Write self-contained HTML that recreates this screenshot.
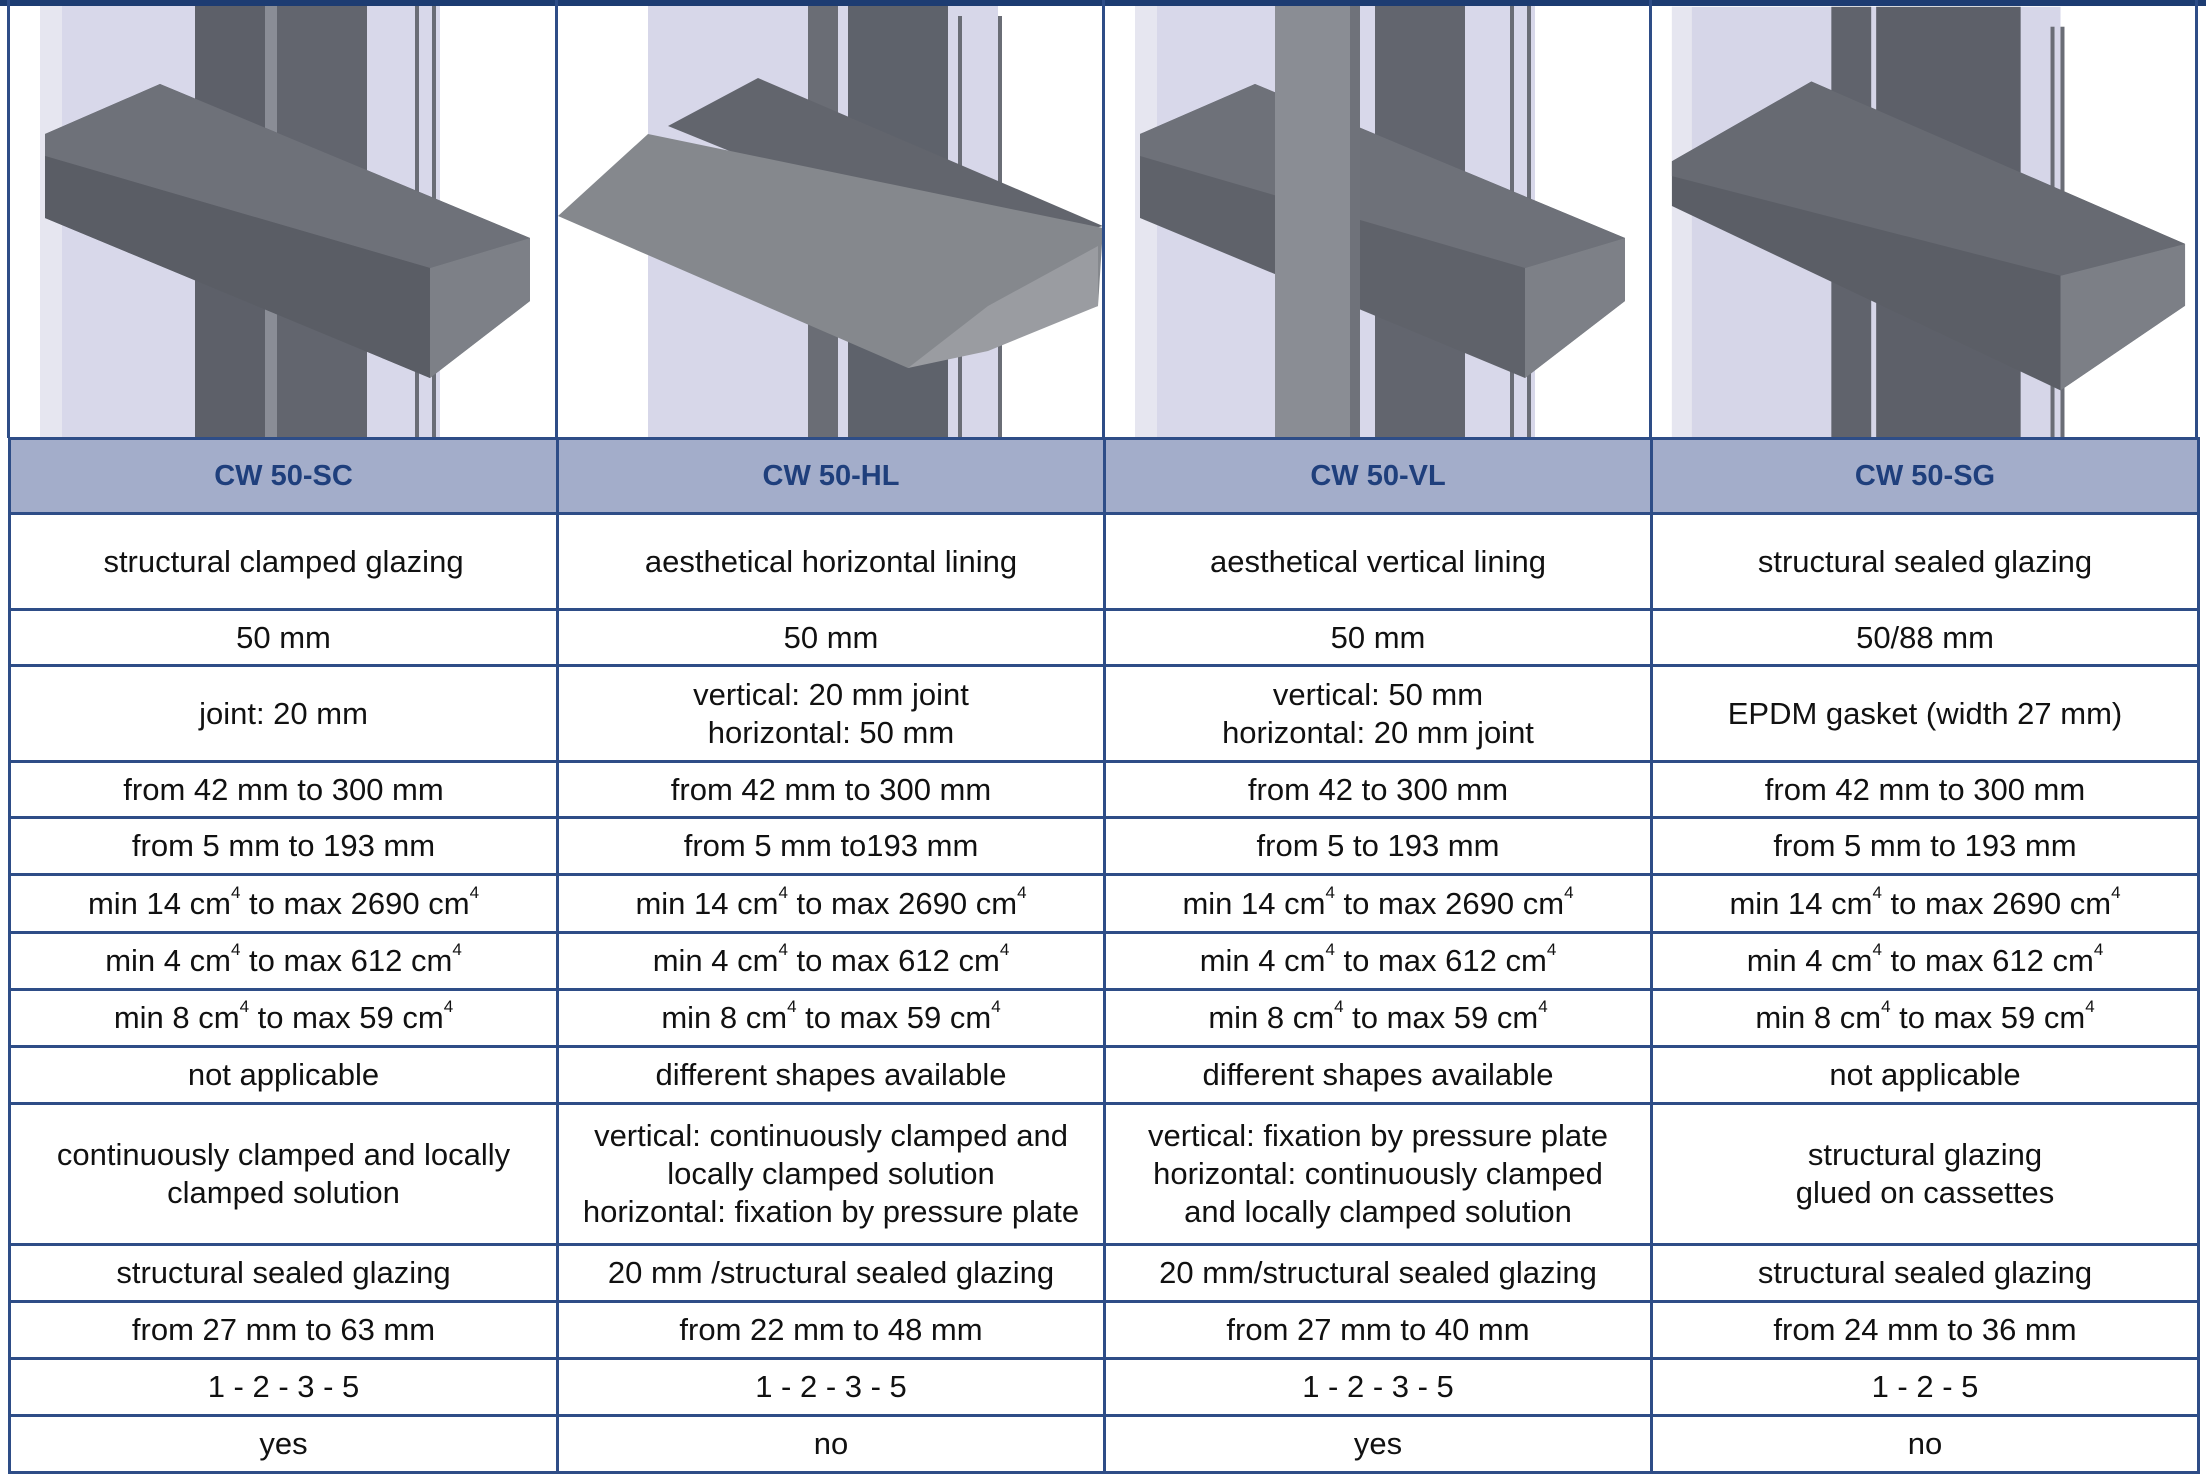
<!DOCTYPE html>
<html><head><meta charset="utf-8"><style>
html,body{margin:0;padding:0;background:#fff;}
body{width:2206px;height:1478px;position:relative;overflow:hidden;font-family:"Liberation Sans",sans-serif;}
.top{position:absolute;left:0;top:0;width:2206px;height:6px;background:#1d3c72;}
.img{position:absolute;top:6px;height:432px;}
table{position:absolute;left:8px;top:437px;border-collapse:collapse;table-layout:fixed;width:2189px;}
td{border:3px solid #2e4d87;text-align:center;vertical-align:middle;font-size:31px;color:#111;line-height:38px;padding:0;}
tr.h td{background:#a3adca;color:#1f3f7c;font-weight:bold;font-size:29px;}
sup{font-size:17px;vertical-align:top;line-height:20px;position:relative;top:-2px;}
.vl{position:absolute;top:0;width:3px;height:438px;background:#2e4d87;}
</style></head><body>
<div class="top"></div>
<div class="vl" style="left:7px"></div>
<div class="vl" style="left:555px"></div>
<div class="vl" style="left:1102px"></div>
<div class="vl" style="left:1649px"></div>
<div class="vl" style="left:2195px"></div>

<svg class="img" style="left:10px" width="545" height="432" viewBox="0 0 545 432">
<rect x="30" y="0" width="400" height="432" fill="#d8d8ea"/>
<rect x="30" y="0" width="22" height="432" fill="#e6e6f0"/>
<rect x="185" y="0" width="75" height="432" fill="#5d6069"/>
<rect x="255" y="0" width="12" height="432" fill="#8a8d96"/>
<rect x="267" y="0" width="90" height="432" fill="#62656e"/>
<rect x="405" y="0" width="4" height="432" fill="#6a6d76"/>
<rect x="422" y="0" width="4" height="432" fill="#6a6d76"/>
<polygon points="35,128 150,78 520,232 520,295 420,372 35,212" fill="#5f626a"/>
<polygon points="35,128 150,78 520,232 420,262 35,150" fill="#6e7179"/>
<polygon points="35,150 420,262 420,372 35,212" fill="#5a5d65"/>
<polygon points="420,262 520,232 520,295 420,372" fill="#7d8087"/>
</svg>

<svg class="img" style="left:558px" width="544" height="432" viewBox="0 0 544 432">
<rect x="90" y="0" width="350" height="432" fill="#d7d7e9"/>
<rect x="250" y="0" width="30" height="432" fill="#6a6d75"/>
<rect x="290" y="0" width="100" height="432" fill="#5e626b"/>
<rect x="400" y="10" width="4" height="422" fill="#6a6d76"/>
<rect x="440" y="10" width="4" height="422" fill="#6a6d76"/>
<polygon points="110,120 200,72 545,220 430,250" fill="#62656d"/>
<polygon points="0,210 90,128 545,222 540,300 430,340 350,362" fill="#85888d"/>
<polygon points="350,362 430,300 540,240 540,300 430,345" fill="#9a9ca1"/>
</svg>

<svg class="img" style="left:1105px" width="544" height="432" viewBox="0 0 544 432">
<rect x="30" y="0" width="400" height="432" fill="#d8d8ea"/>
<rect x="30" y="0" width="22" height="432" fill="#e6e6f0"/>
<rect x="270" y="0" width="90" height="432" fill="#62656e"/>
<rect x="405" y="0" width="4" height="432" fill="#6a6d76"/>
<rect x="422" y="0" width="4" height="432" fill="#6a6d76"/>
<polygon points="35,128 150,78 520,232 520,295 420,372 35,212" fill="#5f626a"/>
<polygon points="35,128 150,78 520,232 420,262 35,150" fill="#6e7179"/>
<polygon points="420,262 520,232 520,295 420,372" fill="#7d8087"/>
<rect x="170" y="0" width="78" height="432" fill="#8a8d94"/>
<rect x="245" y="0" width="10" height="432" fill="#6f727a"/>
</svg>

<svg class="img" style="left:1652px" width="543" height="432" viewBox="0 0 545 432">
<rect x="20" y="0" width="390" height="432" fill="#d6d6e8"/>
<rect x="20" y="0" width="20" height="432" fill="#e6e6f0"/>
<rect x="180" y="0" width="40" height="432" fill="#60636c"/>
<rect x="225" y="0" width="145" height="432" fill="#5d6069"/>
<rect x="400" y="20" width="4" height="412" fill="#6a6d76"/>
<rect x="410" y="20" width="4" height="412" fill="#6a6d76"/>
<polygon points="20,155 160,75 535,238 535,300 410,385 20,200" fill="#5b5e66"/>
<polygon points="20,155 160,75 535,238 410,270 20,170" fill="#676a72"/>
<polygon points="410,270 535,238 535,300 410,385" fill="#7c7f86"/>
</svg>

<table>
<colgroup><col style="width:548px"><col style="width:547px"><col style="width:547px"><col style="width:547px"></colgroup>
<tr class="h" style="height:75px"><td>CW 50-SC</td><td>CW 50-HL</td><td>CW 50-VL</td><td>CW 50-SG</td></tr>
<tr style="height:96px"><td>structural clamped glazing</td><td>aesthetical horizontal lining</td><td>aesthetical vertical lining</td><td>structural sealed glazing</td></tr>
<tr style="height:56px"><td>50 mm</td><td>50 mm</td><td>50 mm</td><td>50/88 mm</td></tr>
<tr style="height:96px"><td>joint: 20 mm</td><td>vertical: 20 mm joint<br>horizontal: 50 mm</td><td>vertical: 50 mm<br>horizontal: 20 mm joint</td><td>EPDM gasket (width 27 mm)</td></tr>
<tr style="height:56px"><td>from 42 mm to 300 mm</td><td>from 42 mm to 300 mm</td><td>from 42 to 300 mm</td><td>from 42 mm to 300 mm</td></tr>
<tr style="height:57px"><td>from 5 mm to 193 mm</td><td>from 5 mm to193 mm</td><td>from 5 to 193 mm</td><td>from 5 mm to 193 mm</td></tr>
<tr style="height:58px"><td>min 14 cm<sup>4</sup> to max 2690 cm<sup>4</sup></td><td>min 14 cm<sup>4</sup> to max 2690 cm<sup>4</sup></td><td>min 14 cm<sup>4</sup> to max 2690 cm<sup>4</sup></td><td>min 14 cm<sup>4</sup> to max 2690 cm<sup>4</sup></td></tr>
<tr style="height:57px"><td>min 4 cm<sup>4</sup> to max 612 cm<sup>4</sup></td><td>min 4 cm<sup>4</sup> to max 612 cm<sup>4</sup></td><td>min 4 cm<sup>4</sup> to max 612 cm<sup>4</sup></td><td>min 4 cm<sup>4</sup> to max 612 cm<sup>4</sup></td></tr>
<tr style="height:57px"><td>min 8 cm<sup>4</sup> to max 59 cm<sup>4</sup></td><td>min 8 cm<sup>4</sup> to max 59 cm<sup>4</sup></td><td>min 8 cm<sup>4</sup> to max 59 cm<sup>4</sup></td><td>min 8 cm<sup>4</sup> to max 59 cm<sup>4</sup></td></tr>
<tr style="height:57px"><td>not applicable</td><td>different shapes available</td><td>different shapes available</td><td>not applicable</td></tr>
<tr style="height:141px"><td>continuously clamped and locally<br>clamped solution</td><td>vertical: continuously clamped and<br>locally clamped solution<br>horizontal: fixation by pressure plate</td><td>vertical: fixation by pressure plate<br>horizontal: continuously clamped<br>and locally clamped solution</td><td>structural glazing<br>glued on cassettes</td></tr>
<tr style="height:57px"><td>structural sealed glazing</td><td>20 mm /structural sealed glazing</td><td>20 mm/structural sealed glazing</td><td>structural sealed glazing</td></tr>
<tr style="height:57px"><td>from 27 mm to 63 mm</td><td>from 22 mm to 48 mm</td><td>from 27 mm to 40 mm</td><td>from 24 mm to 36 mm</td></tr>
<tr style="height:57px"><td>1 - 2 - 3 - 5</td><td>1 - 2 - 3 - 5</td><td>1 - 2 - 3 - 5</td><td>1 - 2 - 5</td></tr>
<tr style="height:57px"><td>yes</td><td>no</td><td>yes</td><td>no</td></tr>
</table>
</body></html>
